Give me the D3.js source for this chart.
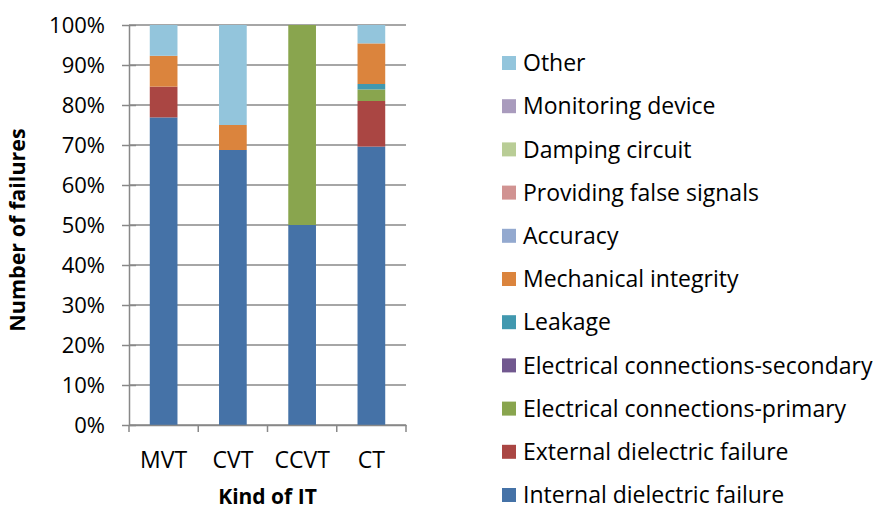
<!DOCTYPE html>
<html>
<head>
<meta charset="utf-8">
<script src="https://cdn.jsdelivr.net/npm/d3@7"></script>
<style>
  body { margin: 0; background: #fff; }
  svg text { font-family: "Open Sans", sans-serif; fill: #000; }
</style>
</head>
<body>
<div id="chart-area"></div>
<script>
// kinds of instrument transformer
var kinds = ["MVT", "CVT", "CCVT", "CT"];

// failure modes, bottom of the stack first
var modes = ["Internal dielectric failure", "External dielectric failure",
  "Electrical connections-primary", "Electrical connections-secondary",
  "Leakage", "Mechanical integrity", "Accuracy", "Providing false signals",
  "Damping circuit", "Monitoring device", "Other"];

// share of failures (%) per kind, same order as kinds
var internalDielectric = [76.9, 68.75, 50, 69.6];
var externalDielectric = [7.7, 0, 0, 11.4];
var elecPrimary = [0, 0, 50, 2.9];
var elecSecondary = [0, 0, 0, 0];
var leakage = [0, 0, 0, 1.35];
var mechanical = [7.7, 6.25, 0, 10.15];
var accuracy = [0, 0, 0, 0];
var falseSignals = [0, 0, 0, 0];
var damping = [0, 0, 0, 0];
var monitoring = [0, 0, 0, 0];
var other = [7.7, 25, 0, 4.6];

var yTicks = [0, 10, 20, 30, 40, 50, 60, 70, 80, 90, 100];

var colors = ["#4572A7", "#AA4643", "#89A54E", "#71588F", "#4198AF", "#DB843D",
  "#93A9CF", "#D19392", "#B9CD96", "#A99BBD", "#93C5DC"];

var seriesVals = [internalDielectric, externalDielectric, elecPrimary, elecSecondary,
  leakage, mechanical, accuracy, falseSignals, damping, monitoring, other];

// table for d3.stack
var table = kinds.map(function(k, i) {
  var row = { kind: k };
  modes.forEach(function(m, j) { row[m] = seriesVals[j][i]; });
  return row;
});

var W = 879, H = 511;
var margin = { left: 129, right: 473, top: 25, bottom: 86 };
var width = W - margin.left - margin.right,
    height = H - margin.top - margin.bottom;

var svg = d3.select("#chart-area").append("svg")
    .attr("width", W)
    .attr("height", H);

var g = svg.append("g")
    .attr("transform", "translate(" + margin.left + "," + margin.top + ")");

var x = d3.scaleBand().domain(kinds).range([0, width]).paddingInner(0.6).paddingOuter(0.3);
var y = d3.scaleLinear().domain([0, 100]).range([height, 0]);

// gridlines
g.selectAll(".grid").data(yTicks).enter().append("line")
    .attr("x1", 0).attr("x2", width)
    .attr("y1", function(d) { return y(d); })
    .attr("y2", function(d) { return y(d); })
    .attr("stroke", "#888")
    .attr("stroke-width", 1.5);

// bars
var stacked = d3.stack().keys(modes)(table);
g.selectAll(".layer").data(stacked).enter().append("g")
    .attr("fill", function(d, i) { return colors[i]; })
  .selectAll("rect").data(function(d) { return d; }).enter().append("rect")
    .attr("x", function(d) { return x(d.data.kind); })
    .attr("width", x.bandwidth())
    .attr("y", function(d) { return y(d[1]); })
    .attr("height", function(d) { return y(d[0]) - y(d[1]); });

// y axis
var yAxis = g.append("g")
    .call(d3.axisLeft(y).tickValues(yTicks).tickSize(7).tickSizeOuter(0)
      .tickFormat(function(d) { return d + "%"; }));
yAxis.select(".domain").attr("stroke", "#888").attr("stroke-width", 1.5);
yAxis.selectAll(".tick line").attr("stroke", "#888").attr("stroke-width", 1.5).attr("x2", 7).attr("x1", -7);
yAxis.selectAll(".tick text")
    .attr("x", -24)
    .attr("dy", "0.36em")
    .style("font-size", "22px");

// x axis
var xAxis = g.append("g")
    .attr("transform", "translate(0," + height + ")")
    .call(d3.axisBottom(x).tickSize(0).tickSizeOuter(0));
xAxis.select(".domain").attr("stroke", "#888").attr("stroke-width", 1.5);
xAxis.selectAll(".tick text")
    .attr("y", 43)
    .attr("dy", 0)
    .style("font-size", "23px");
// category separators
var seps = [0].concat(kinds.map(function(k) { return x(k) + x.bandwidth() + x.step() * x.paddingInner() / 2; }));
seps[seps.length - 1] = width;
xAxis.selectAll(".sep").data(seps).enter().append("line")
    .attr("x1", function(d) { return d; }).attr("x2", function(d) { return d; })
    .attr("y1", 0).attr("y2", 7)
    .attr("stroke", "#888").attr("stroke-width", 1.5);

// axis titles
svg.append("text")
    .attr("x", margin.left + width / 2)
    .attr("y", 504)
    .attr("text-anchor", "middle")
    .style("font-size", "21px")
    .style("font-weight", "bold")
    .text("Kind of IT");

svg.append("text")
    .attr("transform", "translate(25," + (margin.top + height / 2 + 5) + ") rotate(-90)")
    .attr("text-anchor", "middle")
    .style("font-size", "21.5px")
    .style("font-weight", "bold")
    .text("Number of failures");

// legend, top entry is the last series
var legend = svg.append("g").attr("transform", "translate(502,0)");
var rows = modes.slice().reverse();
var item = legend.selectAll(".item").data(rows).enter().append("g")
    .attr("transform", function(d, i) { return "translate(0," + (63 + i * 43.2) + ")"; });
item.append("rect")
    .attr("x", 0).attr("y", -7)
    .attr("width", 14).attr("height", 14)
    .attr("fill", function(d) { return colors[modes.indexOf(d)]; });
item.append("text")
    .attr("x", 21)
    .attr("dy", "0.36em")
    .style("font-size", "23px")
    .text(function(d) { return d; });
</script>
</body>
</html>
